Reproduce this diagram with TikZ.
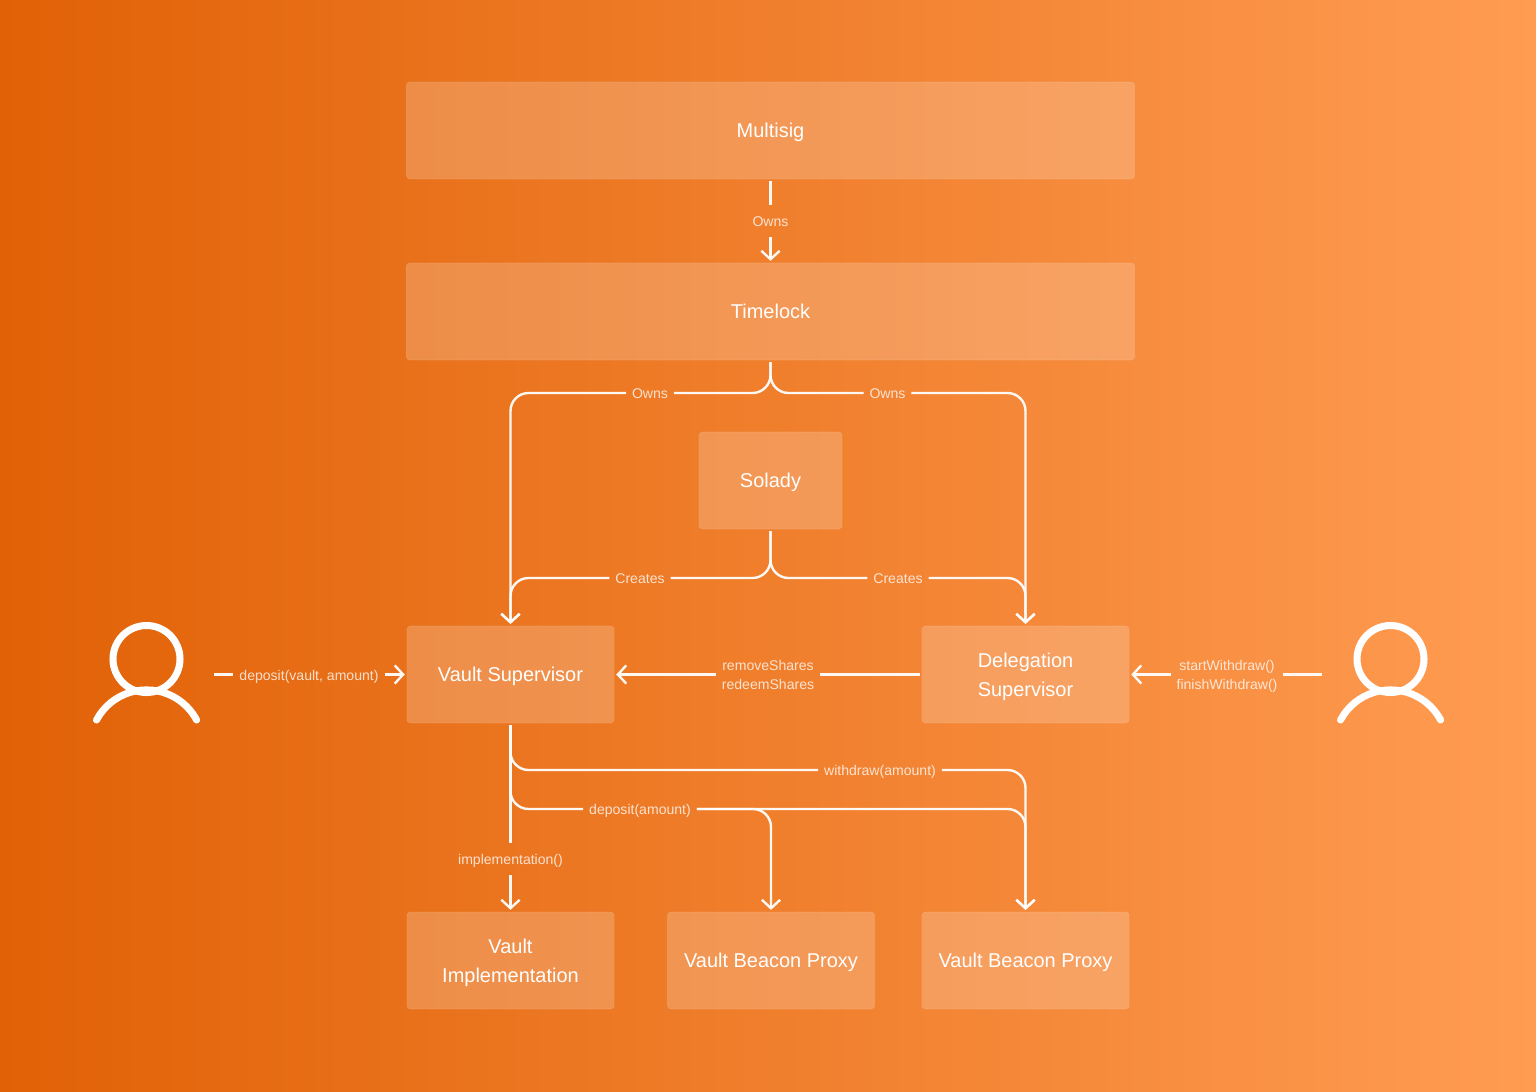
\documentclass[tikz,border=0pt]{standalone}
\usepackage{fontspec}
\setmainfont{Liberation Sans}
\usetikzlibrary{arrows.meta}
\definecolor{bgleft}{RGB}{225,97,6}
\definecolor{bgright}{RGB}{255,156,82}
\tikzset{
  box/.style={rectangle, rounded corners=2.5pt, fill=white, fill opacity=.2, draw=white, draw opacity=.12, line width=.5pt, text=white, text opacity=1, align=center, outer sep=1.5pt, minimum height=2.425cm, font=\fontsize{14.2}{20.5}\selectfont, text height=13pt, text depth=3pt},
  smallbox/.style={box, minimum width=5.18cm},
  twobox/.style={smallbox, text height=34.5pt},
  tag/.style={text=white, text opacity=.78, align=center, inner xsep=.15cm, inner ysep=0pt, outer sep=0pt, minimum height=.8cm, font=\fontsize{10}{13.5}\selectfont, text height=10.4pt, text depth=2pt},
  twotag/.style={tag, text height=23.5pt},
  wire/.style={draw=white, draw opacity=.95, line width=1.7pt, rounded corners=.45cm, >={Straight Barb[length=6pt,width=13pt,line width=1.7pt]}},
  person/.style={draw=white, line width=5pt, line cap=round}
}
\begin{document}
\begin{tikzpicture}[x=.025cm, y=-.025cm]
	%Fundo
	\fill[left color=bgleft, right color=bgright] (0,0) rectangle (1536,1091);
	\useasboundingbox (0,0) rectangle (1536,1091);
	%Caixas
	\node[box, minimum width=18.2cm] (multisig) at (770.5,130.5){Multisig};
	\node[box, minimum width=18.2cm] (timelock) at (770.5,311.5){Timelock};
	\node[box, minimum width=3.58cm] (solady) at (770.5,480.5){Solady};
	\node[smallbox] (vaultsup) at (510.5,674.5){Vault Supervisor};
	\node[twobox] (delegsup) at (1025.5,674.5){Delegation\\Supervisor};
	\node[twobox] (vaultimpl) at (510.5,960.5){Vault\\Implementation};
	\node[smallbox] (proxya) at (771,960.5){Vault Beacon Proxy};
	\node[smallbox] (proxyb) at (1025.5,960.5){Vault Beacon Proxy};
	%Rotulos
	\node[tag] (ownstop) at (770.5,221){Owns};
	\node[tag] (ownsl) at (650,393){Owns};
	\node[tag] (ownsr) at (887.5,393){Owns};
	\node[tag] (createsl) at (640,578){Creates};
	\node[tag] (createsr) at (898,578){Creates};
	\node[tag] (depvault) at (309,674.5){deposit(vault, amount)};
	\node[twotag] (shares) at (768,674.5){removeShares\\redeemShares};
	\node[twotag] (startfin) at (1227,674.5){startWithdraw()\\finishWithdraw()};
	\node[tag] (withdraw) at (880,770){withdraw(amount)};
	\node[tag] (depamount) at (640,809){deposit(amount)};
	\node[tag] (implcall) at (510.5,859){implementation()};
	%Usuarios
	\coordinate (userl) at (214,674.5);
	\coordinate (userr) at (1322,674.5);
	\draw[person] (146.5,659) circle[radius=33.5];
	\draw[person] (96.5,720) arc[start angle=208, end angle=332, radius=56.7];
	\draw[person] (1390.5,659) circle[radius=33.5];
	\draw[person] (1340.5,720) arc[start angle=208, end angle=332, radius=56.7];
	%Ligacoes
	\draw[wire] (multisig) -- (ownstop);
	\draw[wire, ->] (ownstop) -- (timelock);
	\draw[wire] (timelock.south) |- (ownsl.east);
	\draw[wire] (timelock.south) |- (ownsr.west);
	\draw[wire, ->] (ownsl.west) -| (vaultsup.north);
	\draw[wire, ->] (ownsr.east) -| (delegsup.north);
	\draw[wire] (solady.south) |- (createsl.east);
	\draw[wire] (solady.south) |- (createsr.west);
	\draw[wire, ->] (createsl.west) -| (vaultsup.north);
	\draw[wire, ->] (createsr.east) -| (delegsup.north);
	\draw[wire] (userl) -- (depvault.west);
	\draw[wire, ->] (depvault.east) -- (vaultsup.west);
	\draw[wire] (delegsup.west) -- (shares.east);
	\draw[wire, ->] (shares.west) -- (vaultsup.east);
	\draw[wire] (userr) -- (startfin.east);
	\draw[wire, ->] (startfin.west) -- (delegsup.east);
	\draw[wire] (vaultsup.south) -- (implcall);
	\draw[wire, ->] (implcall) -- (vaultimpl);
	\draw[wire] (vaultsup.south) |- (withdraw.west);
	\draw[wire] (vaultsup.south) |- (depamount.west);
	\draw[wire, ->] (withdraw.east) -| (proxyb.north);
	\draw[wire, ->] (depamount.east) -| (proxyb.north);
	\draw[wire, ->] (depamount.east) -| (proxya.north);
\end{tikzpicture}
\end{document}
